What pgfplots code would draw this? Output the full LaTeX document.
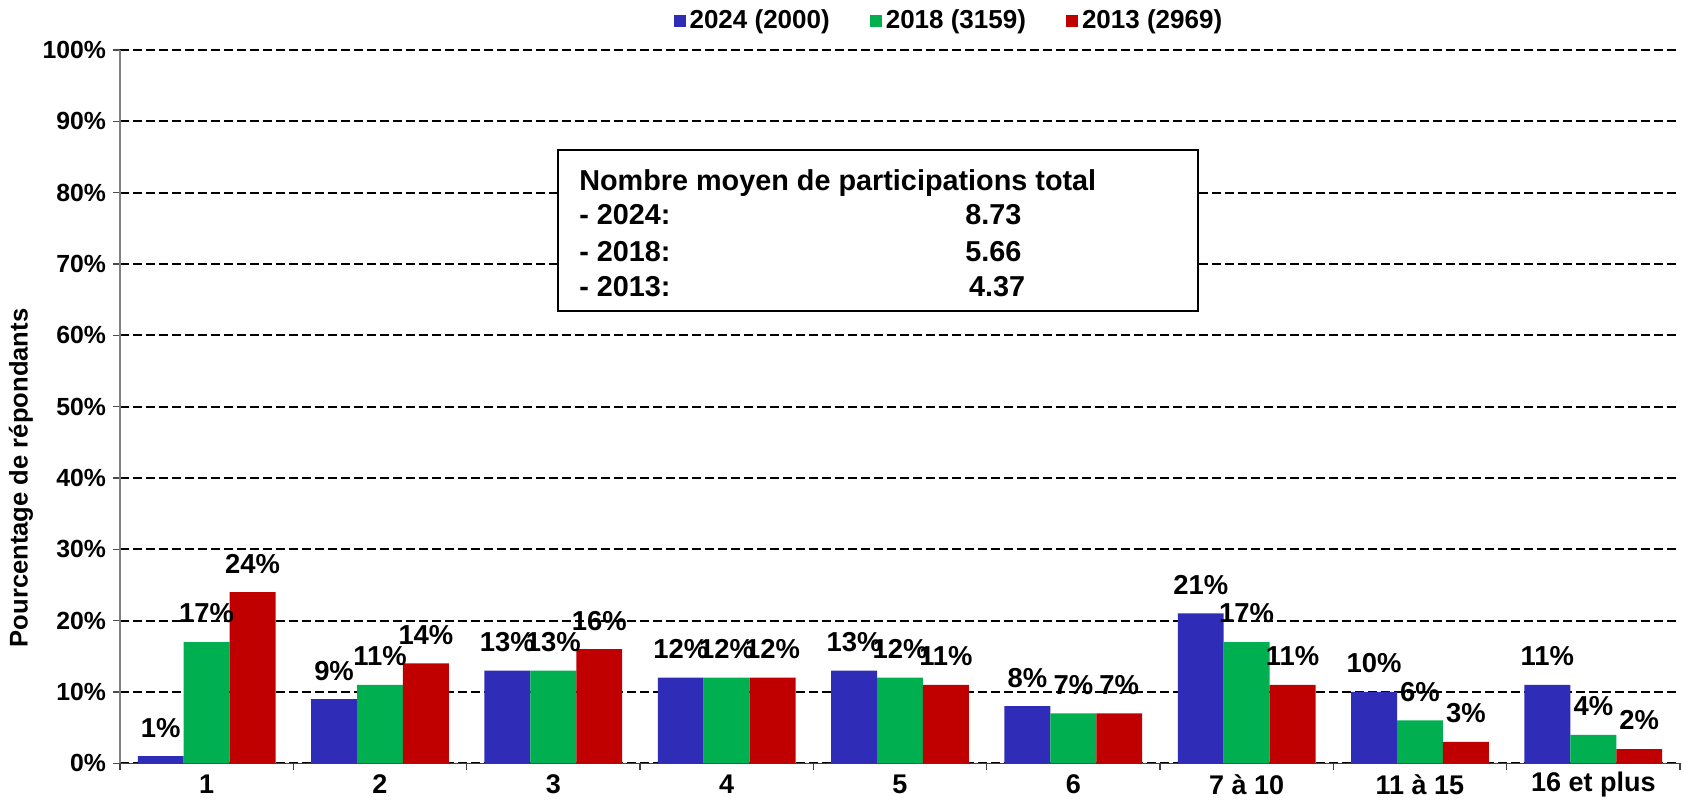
\documentclass[border=0pt]{standalone}
\usepackage{fontspec}
\setmainfont{Liberation Sans}
\usepackage{pgfplots}
\pgfplotsset{compat=1.18}
\usepackage{pgfplotstable}
\definecolor{cblue}{RGB}{47,45,183}
\definecolor{cgreen}{RGB}{0,176,80}
\definecolor{cred}{RGB}{192,0,0}
\definecolor{axgray}{RGB}{128,128,128}
\pgfplotstableread{
x a b c
0 1 17 24
1 9 11 14
2 13 13 16
3 12 12 12
4 13 12 11
5 8 7 7
6 21 17 11
7 10 6 3
8 11 4 2
}\data
\begin{document}
\begin{tikzpicture}
\useasboundingbox (0,0) rectangle (841pt,403.5pt);
\begin{axis}[
  at={(60pt,21.85pt)}, anchor=south west,
  width=780pt, height=356.65pt, scale only axis,
  ybar, bar width=0.265,
  xmin=-0.5, xmax=8.5, ymin=0, ymax=100,
  axis x line*=bottom, axis y line*=left,
  x axis line style={draw=black!75, line width=0.7pt},
  y axis line style={draw=axgray, line width=0.6pt},
  /pgf/number format/assume math mode=true,
  tick align=outside,
  major tick length=3.5pt,
  xtick={-0.5,0.5,1.5,2.5,3.5,4.5,5.5,6.5,7.5,8.5},
  xticklabels={},
  major x tick style={draw=black!75, line width=0.6pt},
  extra x ticks={0,1,2,3,4,5,6,7,8},
  extra x tick labels={1,2,3,4,5,6,7 à 10,11 à 15,16 et plus},
  extra x tick style={major tick length=0pt, grid=none},
  xticklabel style={font=\bfseries\fontsize{13.5}{15}\selectfont, anchor=center, yshift=-10.5pt},
  ytick={0,10,...,100},
  yticklabels={0\%,10\%,20\%,30\%,40\%,50\%,60\%,70\%,80\%,90\%,100\%},
  yticklabel style={font=\bfseries\fontsize{12.4}{14}\selectfont},
  major y tick style={draw=black!70, line width=0.6pt},
  ymajorgrids,
  grid style={draw=black, line width=1pt, dash pattern=on 4.7pt off 1.8pt},
  nodes near coords={\pgfmathprintnumber[fixed,precision=0]{\pgfplotspointmeta}\%},
  nodes near coords style={font=\bfseries\fontsize{13.7}{15}\selectfont, anchor=center, yshift=14.25pt, text=black},
  legend style={at={(rel axis cs:0.532,1.0407)}, anchor=center, draw=none, fill=none,
    font=\bfseries\fontsize{13}{14}\selectfont, legend columns=3,
    /tikz/every even column/.append style={column sep=18pt}},
  legend image code/.code={\fill (0pt,-3pt) rectangle (6pt,3pt);},
  ylabel={},
  clip=false,
]
\addplot[fill=cblue, draw=none, bar shift=-0.265] table[x=x,y=a]{\data};
\addplot[fill=cgreen, draw=none, bar shift=0] table[x=x,y=b]{\data};
\addplot[fill=cred, draw=none, bar shift=0.265] table[x=x,y=c]{\data};
\legend{2024 (2000),2018 (3159),2013 (2969)}
\draw[black, line width=0.9pt, fill=white] (rel axis cs:0.2808,0.634) rectangle (rel axis cs:0.691,0.8598);
\begin{scope}[every node/.style={font=\bfseries\fontsize{14.4}{16}\selectfont, inner sep=0pt, anchor=base west}]
\node at (rel axis cs:0.2942,0.8037) {Nombre moyen de participations total};
\node at (rel axis cs:0.2942,0.7547) {- 2024:};
\node at (rel axis cs:0.2942,0.7032) {- 2018:};
\node at (rel axis cs:0.2942,0.6541) {- 2013:};
\node at (rel axis cs:0.5417,0.7547) {8.73};
\node at (rel axis cs:0.5417,0.7032) {5.66};
\node at (rel axis cs:0.5440,0.6541) {4.37};
\end{scope}
\node[rotate=90, anchor=center, font=\bfseries\fontsize{12.8}{14}\selectfont] at (rel axis cs:-0.0635,0.40) {Pourcentage de répondants};
\end{axis}
\end{tikzpicture}
\end{document}
